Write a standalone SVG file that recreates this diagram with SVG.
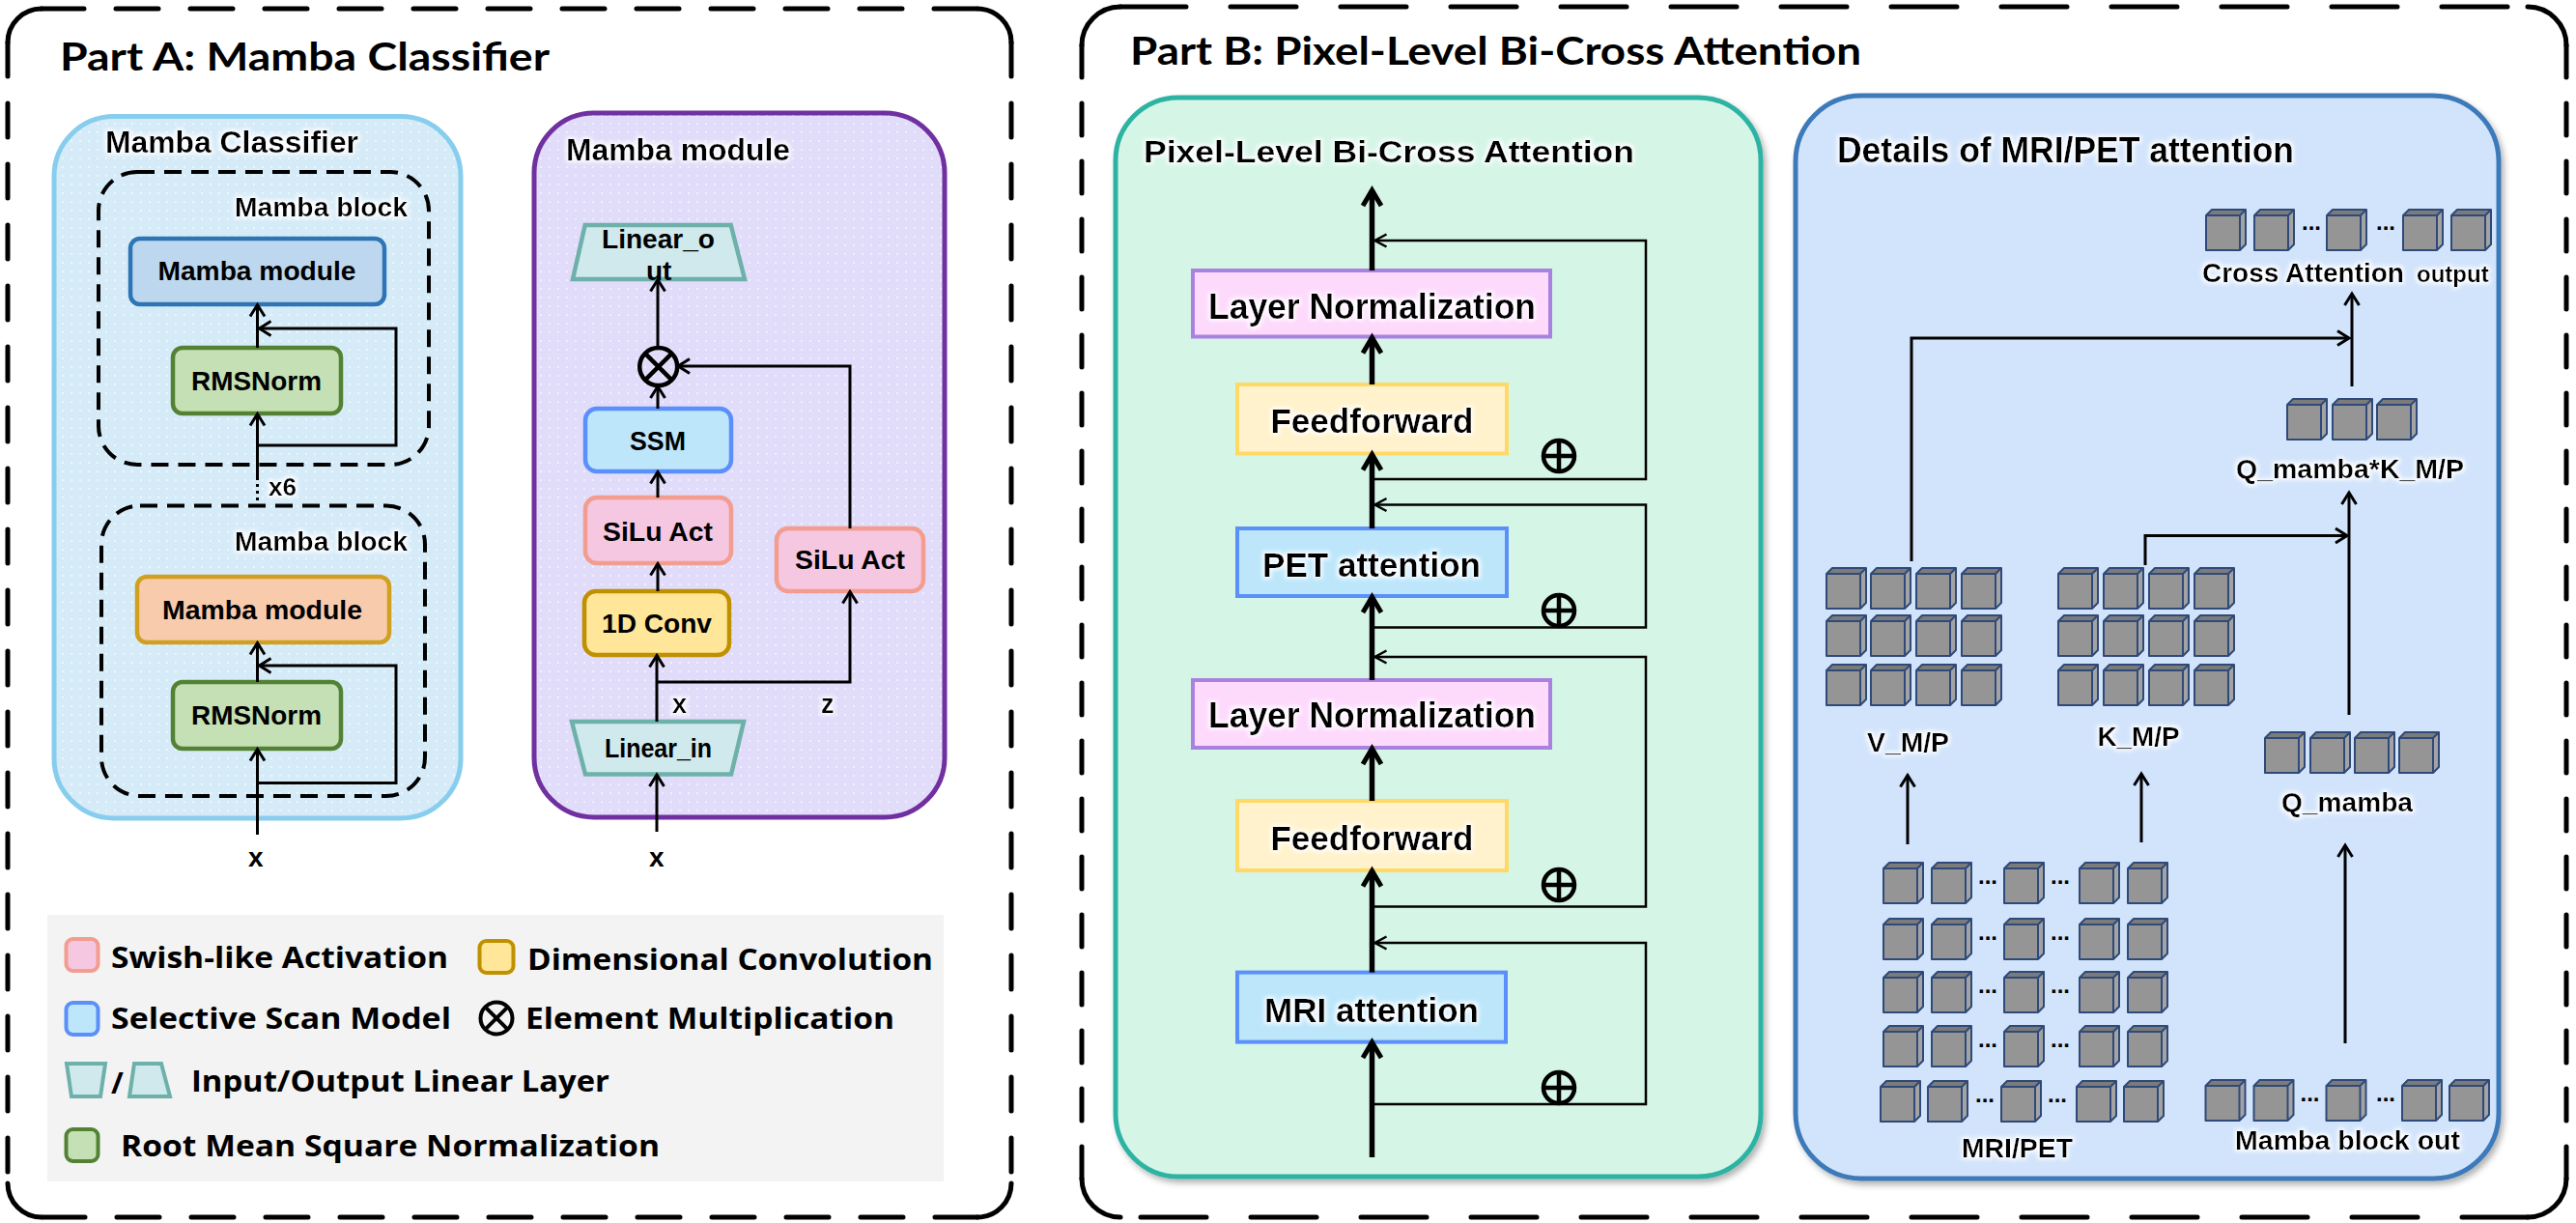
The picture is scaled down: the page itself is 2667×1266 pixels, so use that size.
<svg xmlns="http://www.w3.org/2000/svg" width="2667" height="1266" viewBox="0 0 2667 1266">
<defs>
<style>
.t{font-family:"Liberation Sans",Arial,sans-serif;font-weight:bold;fill:#000}
.g{filter:url(#glow)}
.ttl{font-family:Lato,"Liberation Sans",sans-serif;font-weight:bold;font-size:40px;fill:#000}
.lg{font-family:"Open Sans","Liberation Sans",sans-serif;font-weight:bold;font-size:31px;fill:#000}
.dh{fill:none;stroke:#000;stroke-width:5;stroke-linecap:round}
.blk{fill:none;stroke:#000;stroke-width:4;stroke-dasharray:18 10}
.ln{fill:none;stroke:#000;stroke-width:3}
.thk{fill:none;stroke:#000;stroke-width:5.5}
.sk{fill:none;stroke:#000;stroke-width:2.5}
.sym{fill:none;stroke:#000;stroke-width:4.5}
.bluebox{fill:#bde6fb;stroke:#5b8ff9;stroke-width:4.5}
.pinkbox{fill:#f5c7e0;stroke:#f29d90;stroke-width:4.5}
.yelbox{fill:#ffe699;stroke:#bf9000;stroke-width:4.5}
.grnbox{fill:#c5e0b4;stroke:#548235;stroke-width:4.5}
.trap{fill:#d0e9ed;stroke:#6db1aa;stroke-width:4.5}
.lnbox{fill:#fdd9fc;stroke:#a982e0;stroke-width:4}
.ffbox{fill:#fff2cc;stroke:#ffd966;stroke-width:4}
.atbox{fill:#bde6fb;stroke:#5b8ff9;stroke-width:4}
</style>
<filter id="glow" x="-50%" y="-50%" width="200%" height="200%">
<feMorphology in="SourceAlpha" operator="dilate" radius="2" result="d"/>
<feGaussianBlur in="d" stdDeviation="2.2" result="b"/>
<feFlood flood-color="#ffffff" flood-opacity="0.95"/>
<feComposite in2="b" operator="in" result="gl"/>
<feMerge><feMergeNode in="gl"/><feMergeNode in="SourceGraphic"/></feMerge>
</filter>
<filter id="shadow" x="-5%" y="-5%" width="110%" height="110%">
<feDropShadow dx="3" dy="4" stdDeviation="3" flood-color="#000" flood-opacity="0.3"/>
</filter>
<pattern id="dots" width="9" height="9" patternUnits="userSpaceOnUse">
<circle cx="2" cy="2" r="1" fill="#ffffff" fill-opacity="0.7"/>
</pattern>
<marker id="ah" markerUnits="userSpaceOnUse" viewBox="-20 -20 40 40" markerWidth="40" markerHeight="40" refX="0" refY="0" orient="auto" overflow="visible">
<path d="M-12,-7.5 L0,0 L-12,7.5" fill="none" stroke="#000" stroke-width="3"/>
</marker>
<marker id="ahT" markerUnits="userSpaceOnUse" viewBox="-20 -20 40 40" markerWidth="40" markerHeight="40" refX="0" refY="0" orient="auto" overflow="visible">
<path d="M-16,-9.5 L0,0 L-16,9.5" fill="none" stroke="#000" stroke-width="5"/>
</marker>
<marker id="ahS" markerUnits="userSpaceOnUse" viewBox="-20 -20 40 40" markerWidth="40" markerHeight="40" refX="0" refY="0" orient="auto" overflow="visible">
<path d="M-12,-6.5 L0,0 L-12,6.5" fill="none" stroke="#000" stroke-width="2.5"/>
</marker>
<g id="cube">
<polygon points="0,6 6,0 41,0 35,6" fill="#7b7b7b"/>
<polygon points="35,6 41,0 41,36 35,42" fill="#a3a3a3"/>
<rect x="0" y="6" width="35" height="36" fill="#959595"/>
<path d="M0,6 L6,0 H41 V36 L35,42 H0 Z M0,6 H35 V42 M35,6 L41,0" fill="none" stroke="#2f4a78" stroke-width="2" stroke-linejoin="round"/>
</g>
</defs>

<rect width="2667" height="1266" fill="#ffffff"/>

<!-- Part A frame -->
<g id="partA-frame">
<path class="dh" d="M43,9 H1012 M1012,1260 H43" stroke-dasharray="44 33"/>
<path class="dh" d="M8,44 V1225 M1047,44 V1225" stroke-dasharray="35 28"/>
<path class="dh" d="M8,44 A35,35 0 0 1 43,9 M1012,9 A35,35 0 0 1 1047,44 M1047,1225 A35,35 0 0 1 1012,1260 M43,1260 A35,35 0 0 1 8,1225"/>
<text class="ttl" x="62" y="73" textLength="507" lengthAdjust="spacingAndGlyphs">Part A: Mamba Classifier</text>
</g>

<!-- Part B frame -->
<g id="partB-frame">
<path class="dh" d="M1160,7 H2617 M2617,1260 H1160" stroke-dasharray="68 46"/>
<path class="dh" d="M1120,47 V1220 M2657,47 V1220" stroke-dasharray="33 27"/>
<path class="dh" d="M1120,47 A40,40 0 0 1 1160,7 M2617,7 A40,40 0 0 1 2657,47 M2657,1220 A40,40 0 0 1 2617,1260 M1160,1260 A40,40 0 0 1 1120,1220"/>
<text class="ttl" x="1170" y="67" textLength="757" lengthAdjust="spacingAndGlyphs">Part B: Pixel-Level Bi-Cross Attention</text>
</g>

<!-- Part A panels -->
<g id="mamba-classifier-panel">
<rect x="56" y="120.5" width="421" height="726.5" rx="62" fill="#d6ebf8" stroke="#87cdee" stroke-width="5"/>
<rect x="58.5" y="123" width="416" height="721.5" rx="60" fill="url(#dots)"/>
<text class="t g" x="109" y="158" font-size="32" textLength="262" lengthAdjust="spacingAndGlyphs">Mamba Classifier</text>
</g>
<g id="mamba-block-1">
<rect class="blk" x="102" y="178" width="342" height="303" rx="40"/>
<text class="t g" x="243" y="224" font-size="28" textLength="179" lengthAdjust="spacingAndGlyphs">Mamba block</text>
</g>
<g id="mamba-module-1">
<rect x="135" y="247" width="263" height="68" rx="10" fill="#bdd7ee" stroke="#2e75b6" stroke-width="4.5"/>
<text class="t" x="163.5" y="290" font-size="28" textLength="205" lengthAdjust="spacingAndGlyphs">Mamba module</text>
</g>
<g id="rmsnorm-1">
<rect class="grnbox" x="179" y="360" width="174" height="68" rx="10"/>
<text class="t" x="198" y="404" font-size="28" textLength="135" lengthAdjust="spacingAndGlyphs">RMSNorm</text>
</g>
<g id="mamba-block-2">
<rect class="blk" x="105" y="523.5" width="335" height="300.5" rx="40"/>
<text class="t g" x="243" y="570" font-size="28" textLength="179" lengthAdjust="spacingAndGlyphs">Mamba block</text>
</g>
<g id="mamba-module-2">
<rect x="142" y="597" width="261" height="68" rx="10" fill="#f8cbad" stroke="#d0a020" stroke-width="4.5"/>
<text class="t" x="168" y="641" font-size="28" textLength="207" lengthAdjust="spacingAndGlyphs">Mamba module</text>
</g>
<g id="rmsnorm-2">
<rect class="grnbox" x="179" y="706" width="174" height="69" rx="10"/>
<text class="t" x="198" y="750" font-size="28" textLength="135" lengthAdjust="spacingAndGlyphs">RMSNorm</text>
</g>
<g id="labels-A">
<text class="t g" x="278" y="513" font-size="26" textLength="29" lengthAdjust="spacingAndGlyphs">x6</text>
<text class="t" x="257" y="897" font-size="28">x</text>
<text class="t" x="672" y="897" font-size="28">x</text>
</g>

<g id="mamba-module-panel">
<rect x="553" y="117" width="425" height="729" rx="62" fill="#e1dcf9" stroke="#7030a0" stroke-width="5"/>
<rect x="555.5" y="119.5" width="420" height="724" rx="60" fill="url(#dots)"/>
<text class="t g" x="586" y="166" font-size="31" textLength="232" lengthAdjust="spacingAndGlyphs">Mamba module</text>
</g>
<g id="linear-out">
<polygon class="trap" points="605.7,233 756.7,233 771,289 593,289"/>
<text class="t" x="623" y="257" font-size="28" textLength="117" lengthAdjust="spacingAndGlyphs">Linear_o</text>
<text class="t" x="669" y="290" font-size="28">ut</text>
</g>
<g id="multiply">
<circle class="sym" cx="681.7" cy="379.6" r="19.5"/>
<path class="sym" d="M667.9,365.8 L695.5,393.4 M695.5,365.8 L667.9,393.4"/>
</g>
<g id="ssm">
<rect class="bluebox" x="606" y="423" width="151" height="65" rx="12"/>
<text class="t" x="652" y="466" font-size="28" textLength="58" lengthAdjust="spacingAndGlyphs">SSM</text>
</g>
<g id="silu-1">
<rect class="pinkbox" x="606" y="515" width="151" height="68" rx="12"/>
<text class="t" x="624" y="560" font-size="28" textLength="114" lengthAdjust="spacingAndGlyphs">SiLu Act</text>
</g>
<g id="conv1d">
<rect class="yelbox" x="605" y="612" width="150" height="66" rx="12"/>
<text class="t" x="623" y="655" font-size="28" textLength="114" lengthAdjust="spacingAndGlyphs">1D Conv</text>
</g>
<g id="silu-2">
<rect class="pinkbox" x="804" y="547" width="152" height="65" rx="12"/>
<text class="t" x="823" y="589" font-size="28" textLength="114" lengthAdjust="spacingAndGlyphs">SiLu Act</text>
</g>
<g id="linear-in">
<polygon class="trap" points="592,747 770,747 757,801.5 606,801.5"/>
<text class="t" x="626" y="784" font-size="28" textLength="111" lengthAdjust="spacingAndGlyphs">Linear_in</text>
</g>
<g id="labels-module">
<text class="t g" x="696" y="738" font-size="27">x</text>
<text class="t g" x="850" y="738" font-size="27">z</text>
</g>

<!-- Legend -->
<g id="legend">
<rect x="49" y="947" width="928" height="276" fill="#f3f3f3"/>
<rect class="pinkbox" x="68.5" y="972" width="33" height="33" rx="7" style="stroke-width:4"/>
<text class="lg" x="115" y="1002" textLength="349" lengthAdjust="spacingAndGlyphs">Swish-like Activation</text>
<rect class="yelbox" x="496.5" y="974" width="35" height="33" rx="7" style="stroke-width:4"/>
<text class="lg" x="546" y="1004" textLength="420" lengthAdjust="spacingAndGlyphs">Dimensional Convolution</text>
<rect class="bluebox" x="68.5" y="1038" width="33" height="33" rx="7" style="stroke-width:4"/>
<text class="lg" x="115" y="1065" textLength="352" lengthAdjust="spacingAndGlyphs">Selective Scan Model</text>
<circle class="sym" cx="514" cy="1054" r="16.5" style="stroke-width:4"/>
<path class="sym" d="M502.3,1042.3 L525.7,1065.7 M525.7,1042.3 L502.3,1065.7" style="stroke-width:4"/>
<text class="lg" x="544" y="1065" textLength="382" lengthAdjust="spacingAndGlyphs">Element Multiplication</text>
<polygon class="trap" points="69,1101 109,1101 104,1135 74,1135" style="stroke-width:4"/>
<text class="lg" x="115" y="1132" font-weight="normal">/</text>
<polygon class="trap" points="139,1101 167,1101 176,1135 134,1135" style="stroke-width:4"/>
<text class="lg" x="198" y="1130" textLength="433" lengthAdjust="spacingAndGlyphs">Input/Output Linear Layer</text>
<rect class="grnbox" x="68.5" y="1169" width="33" height="33" rx="7" style="stroke-width:4"/>
<text class="lg" x="125" y="1197" textLength="558" lengthAdjust="spacingAndGlyphs">Root Mean Square Normalization</text>
</g>

<!-- Part B: Pixel-level panel -->
<g id="pixel-panel">
<rect x="1155" y="101" width="668" height="1117" rx="65" fill="#d5f5e7" stroke="#2eb3a3" stroke-width="5" filter="url(#shadow)"/>
<text class="t g" x="1184" y="168" font-size="31" textLength="508" lengthAdjust="spacingAndGlyphs">Pixel-Level Bi-Cross Attention</text>
</g>
<g id="layernorm-1">
<rect class="lnbox" x="1235" y="280" width="370" height="68.5"/>
<text class="t g" x="1420.5" y="330" font-size="36" text-anchor="middle" textLength="339" lengthAdjust="spacingAndGlyphs">Layer Normalization</text>
</g>
<g id="feedforward-1">
<rect class="ffbox" x="1281" y="398" width="279" height="71.5"/>
<text class="t g" x="1420.5" y="448" font-size="35" text-anchor="middle" textLength="210" lengthAdjust="spacingAndGlyphs">Feedforward</text>
</g>
<g id="pet-attention">
<rect class="atbox" x="1281" y="547" width="279" height="70"/>
<text class="t g" x="1420" y="597" font-size="35" text-anchor="middle" textLength="226" lengthAdjust="spacingAndGlyphs">PET attention</text>
</g>
<g id="layernorm-2">
<rect class="lnbox" x="1235" y="704" width="370" height="70"/>
<text class="t g" x="1420.5" y="753" font-size="36" text-anchor="middle" textLength="339" lengthAdjust="spacingAndGlyphs">Layer Normalization</text>
</g>
<g id="feedforward-2">
<rect class="ffbox" x="1281" y="829" width="279" height="72"/>
<text class="t g" x="1420.5" y="880" font-size="35" text-anchor="middle" textLength="210" lengthAdjust="spacingAndGlyphs">Feedforward</text>
</g>
<g id="mri-attention">
<rect class="atbox" x="1281" y="1006.6" width="278" height="72"/>
<text class="t g" x="1420" y="1058" font-size="35" text-anchor="middle" textLength="222" lengthAdjust="spacingAndGlyphs">MRI attention</text>
</g>
<g id="add-nodes">
<g id="add-1"><circle class="sym" cx="1614" cy="472" r="16"/><path class="sym" d="M1598,472 H1630 M1614,456 V488"/></g>
<g id="add-2"><circle class="sym" cx="1614" cy="632" r="16"/><path class="sym" d="M1598,632 H1630 M1614,616 V648"/></g>
<g id="add-3"><circle class="sym" cx="1614" cy="916" r="16"/><path class="sym" d="M1598,916 H1630 M1614,900 V932"/></g>
<g id="add-4"><circle class="sym" cx="1614" cy="1126" r="16"/><path class="sym" d="M1598,1126 H1630 M1614,1110 V1142"/></g>
</g>

<!-- Details panel -->
<g id="details-panel">
<rect x="1859" y="99" width="728" height="1121" rx="68" fill="#d2e4fb" stroke="#3d7ab9" stroke-width="5" filter="url(#shadow)"/>
<text class="t g" x="1902" y="168" font-size="36" textLength="473" lengthAdjust="spacingAndGlyphs">Details of MRI/PET attention</text>
</g>
<g id="cross-attention-output">
<use href="#cube" x="2284" y="217"/>
<use href="#cube" x="2334" y="217"/>
<text class="t" x="2383" y="238" font-size="24">...</text>
<use href="#cube" x="2409" y="217"/>
<text class="t" x="2460" y="238" font-size="24">...</text>
<use href="#cube" x="2488" y="217"/>
<use href="#cube" x="2538" y="217"/>
<text class="t g" x="2280" y="292" font-size="28">Cross Attention<tspan x="2502" font-size="24">output</tspan></text>
</g>
<g id="qk-product">
<use href="#cube" x="2368" y="413"/>
<use href="#cube" x="2415" y="413"/>
<use href="#cube" x="2461" y="413"/>
<text class="t g" x="2315" y="495" font-size="28" textLength="236" lengthAdjust="spacingAndGlyphs">Q_mamba*K_M/P</text>
</g>
<g id="v-mp">
<use href="#cube" x="1891" y="588"/><use href="#cube" x="1937" y="588"/><use href="#cube" x="1984" y="588"/><use href="#cube" x="2031" y="588"/>
<use href="#cube" x="1891" y="637"/><use href="#cube" x="1937" y="637"/><use href="#cube" x="1984" y="637"/><use href="#cube" x="2031" y="637"/>
<use href="#cube" x="1891" y="688"/><use href="#cube" x="1937" y="688"/><use href="#cube" x="1984" y="688"/><use href="#cube" x="2031" y="688"/>
<text class="t g" x="1933" y="778" font-size="28" textLength="85" lengthAdjust="spacingAndGlyphs">V_M/P</text>
</g>
<g id="k-mp">
<use href="#cube" x="2131" y="588"/><use href="#cube" x="2178" y="588"/><use href="#cube" x="2225" y="588"/><use href="#cube" x="2272" y="588"/>
<use href="#cube" x="2131" y="637"/><use href="#cube" x="2178" y="637"/><use href="#cube" x="2225" y="637"/><use href="#cube" x="2272" y="637"/>
<use href="#cube" x="2131" y="688"/><use href="#cube" x="2178" y="688"/><use href="#cube" x="2225" y="688"/><use href="#cube" x="2272" y="688"/>
<text class="t g" x="2171.5" y="772" font-size="28" textLength="85" lengthAdjust="spacingAndGlyphs">K_M/P</text>
</g>
<g id="q-mamba">
<use href="#cube" x="2345" y="758"/><use href="#cube" x="2392" y="758"/><use href="#cube" x="2438" y="758"/><use href="#cube" x="2484" y="758"/>
<text class="t g" x="2362" y="840" font-size="28" textLength="136" lengthAdjust="spacingAndGlyphs">Q_mamba</text>
</g>
<g id="mri-pet">
<use href="#cube" x="1950" y="893"/><use href="#cube" x="2000" y="893"/><text class="t" x="2048" y="915" font-size="24">...</text><use href="#cube" x="2075" y="893"/><text class="t" x="2123" y="915" font-size="24">...</text><use href="#cube" x="2153" y="893"/><use href="#cube" x="2203" y="893"/>
<use href="#cube" x="1950" y="951"/><use href="#cube" x="2000" y="951"/><text class="t" x="2048" y="973" font-size="24">...</text><use href="#cube" x="2075" y="951"/><text class="t" x="2123" y="973" font-size="24">...</text><use href="#cube" x="2153" y="951"/><use href="#cube" x="2203" y="951"/>
<use href="#cube" x="1950" y="1006"/><use href="#cube" x="2000" y="1006"/><text class="t" x="2048" y="1028" font-size="24">...</text><use href="#cube" x="2075" y="1006"/><text class="t" x="2123" y="1028" font-size="24">...</text><use href="#cube" x="2153" y="1006"/><use href="#cube" x="2203" y="1006"/>
<use href="#cube" x="1950" y="1062"/><use href="#cube" x="2000" y="1062"/><text class="t" x="2048" y="1084" font-size="24">...</text><use href="#cube" x="2075" y="1062"/><text class="t" x="2123" y="1084" font-size="24">...</text><use href="#cube" x="2153" y="1062"/><use href="#cube" x="2203" y="1062"/>
<use href="#cube" x="1947" y="1119"/><use href="#cube" x="1996" y="1119"/><text class="t" x="2045" y="1141" font-size="24">...</text><use href="#cube" x="2072" y="1119"/><text class="t" x="2120" y="1141" font-size="24">...</text><use href="#cube" x="2150" y="1119"/><use href="#cube" x="2199" y="1119"/>
<text class="t g" x="2031" y="1198" font-size="28" textLength="115" lengthAdjust="spacingAndGlyphs">MRI/PET</text>
</g>
<g id="mamba-block-out">
<use href="#cube" x="2283.5" y="1118"/><use href="#cube" x="2333.5" y="1118"/><text class="t" x="2381.5" y="1140" font-size="24">...</text><use href="#cube" x="2408.5" y="1118"/><text class="t" x="2460" y="1140" font-size="24">...</text><use href="#cube" x="2487" y="1118"/><use href="#cube" x="2536" y="1118"/>
<text class="t g" x="2314" y="1190" font-size="28" textLength="233" lengthAdjust="spacingAndGlyphs">Mamba block out</text>
</g>

<!-- Connectors -->
<g id="connectors">
<!-- Part A classifier -->
<path class="ln" d="M266.5,494 V428.5" marker-end="url(#ah)"/>
<path class="ln" d="M266.5,494 V523" stroke-dasharray="3 4"/>
<path class="ln" d="M266.5,461 H410 V340 H268.5" marker-end="url(#ah)"/>
<path class="ln" d="M266.5,360 V315.5" marker-end="url(#ah)"/>
<path class="ln" d="M266.5,864 V775.5" marker-end="url(#ah)"/>
<path class="ln" d="M266.5,810.5 H410 V689 H268.5" marker-end="url(#ah)"/>
<path class="ln" d="M266.5,706 V665.5" marker-end="url(#ah)"/>
<!-- Mamba module -->
<path class="ln" d="M680,861 V802" marker-end="url(#ah)"/>
<path class="ln" d="M680,747 V678.5" marker-end="url(#ah)"/>
<path class="ln" d="M680,706 H880 V612.5" marker-end="url(#ah)"/>
<path class="ln" d="M681,612 V583.5" marker-end="url(#ah)"/>
<path class="ln" d="M681,515 V488.5" marker-end="url(#ah)"/>
<path class="ln" d="M681,423 V400" marker-end="url(#ah)"/>
<path class="ln" d="M681,360 V289.5" marker-end="url(#ah)"/>
<path class="ln" d="M880,547 V379 H702" marker-end="url(#ah)"/>
<!-- Pixel-level main flow -->
<path class="thk" d="M1420.5,1198 V1079" marker-end="url(#ahT)"/>
<path class="thk" d="M1420.5,1006.6 V901.5" marker-end="url(#ahT)"/>
<path class="thk" d="M1420.5,829 V775" marker-end="url(#ahT)"/>
<path class="thk" d="M1420.5,704 V618" marker-end="url(#ahT)"/>
<path class="thk" d="M1420.5,547 V470.5" marker-end="url(#ahT)"/>
<path class="thk" d="M1420.5,398 V349.5" marker-end="url(#ahT)"/>
<path class="thk" d="M1420.5,280 V197" marker-end="url(#ahT)"/>
<!-- residual skips -->
<path class="sk" d="M1420.5,496 H1704 V249 H1423.5" marker-end="url(#ahS)"/>
<path class="sk" d="M1420.5,649.6 H1704 V522.5 H1423.5" marker-end="url(#ahS)"/>
<path class="sk" d="M1420.5,938.5 H1704 V680 H1423.5" marker-end="url(#ahS)"/>
<path class="sk" d="M1420.5,1143 H1704 V976 H1423.5" marker-end="url(#ahS)"/>
<!-- Details -->
<path class="ln" d="M2435,400 V304" marker-end="url(#ah)"/>
<path class="ln" d="M1979,581 V350 H2432" marker-end="url(#ah)"/>
<path class="ln" d="M2432,740 V510" marker-end="url(#ah)"/>
<path class="ln" d="M2221,585 V554.5 H2430" marker-end="url(#ah)"/>
<path class="ln" d="M1975,874 V802.5" marker-end="url(#ah)"/>
<path class="ln" d="M2217,872 V801" marker-end="url(#ah)"/>
<path class="ln" d="M2428,1080 V875" marker-end="url(#ah)"/>
</g>
</svg>
